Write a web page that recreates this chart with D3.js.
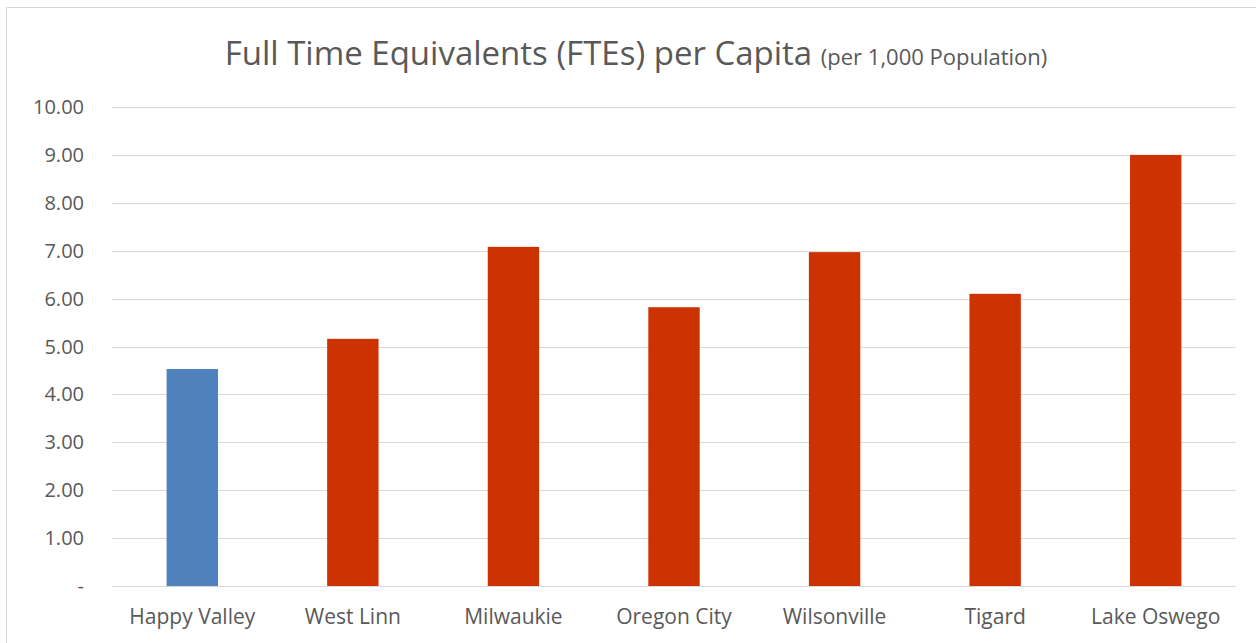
<!DOCTYPE html>
<html>
<head>
<meta charset="utf-8">
<script src="https://cdn.jsdelivr.net/npm/d3@7"></script>
<style>
  body { margin: 0; background: #fff; }
  svg { display: block; font-family: "Open Sans", Lato, sans-serif; }
</style>
</head>
<body>
<script>
// data
const cities = ["Happy Valley", "West Linn", "Milwaukie", "Oregon City", "Wilsonville", "Tigard", "Lake Oswego"]
const ftePerCapita = [4.53, 5.16, 7.08, 5.82, 6.97, 6.10, 9.00]
const barColors = ["#4F81BD", "#CC3300", "#CC3300", "#CC3300", "#CC3300", "#CC3300", "#CC3300"]
const yTicks = [0, 1, 2, 3, 4, 5, 6, 7, 8, 9, 10]

const W = 1256, H = 643
const margin = {top: 107, right: 20, bottom: 57, left: 112}

const svg = d3.select("body").append("svg")
    .attr("width", W)
    .attr("height", H)

// chart frame (only top and left edges are inside the crop)
svg.append("path")
    .attr("d", `M6.5,${H}V7.5H${W}`)
    .attr("fill", "none")
    .attr("stroke", "#d9d9d9")

const x = d3.scaleBand()
    .domain(cities)
    .range([margin.left, W - margin.right])
    .paddingInner(0.68)
    .paddingOuter(0.34)

const y = d3.scaleLinear()
    .domain([0, 10])
    .range([H - margin.bottom, margin.top])

// gridlines
svg.append("g")
    .selectAll("line")
    .data(yTicks)
    .enter()
    .append("line")
    .attr("x1", margin.left)
    .attr("x2", W - margin.right)
    .attr("y1", d => Math.round(y(d)) + 0.5)
    .attr("y2", d => Math.round(y(d)) + 0.5)
    .style("stroke", "#d9d9d9")
    .style("stroke-width", 1)

// y tick labels
svg.append("g")
    .selectAll("text")
    .data(yTicks)
    .enter()
    .append("text")
    .attr("x", 84)
    .attr("y", d => y(d))
    .attr("dy", "0.35em")
    .attr("text-anchor", "end")
    .attr("fill", "#595959")
    .attr("font-size", "20px")
    .text(d => d == 0 ? "-" : d3.format(".2f")(d))

// bars
svg.append("g")
    .selectAll("rect")
    .data(cities)
    .enter()
    .append("rect")
    .attr("x", d => x(d))
    .attr("width", x.bandwidth())
    .attr("y", (d, i) => y(ftePerCapita[i]))
    .attr("height", (d, i) => y(0) - y(ftePerCapita[i]))
    .attr("fill", (d, i) => barColors[i])

// x labels
svg.append("g")
    .selectAll("text")
    .data(cities)
    .enter()
    .append("text")
    .attr("x", d => x(d) + x.bandwidth() / 2)
    .attr("y", 624)
    .attr("text-anchor", "middle")
    .attr("fill", "#595959")
    .attr("font-size", "21px")
    .text(d => d)

// title
const title = svg.append("text")
    .attr("x", 636)
    .attr("y", 65)
    .attr("text-anchor", "middle")
    .attr("fill", "#595959")
title.append("tspan")
    .attr("font-size", "33px")
    .text("Full Time Equivalents (FTEs) per Capita ")
title.append("tspan")
    .attr("font-size", "22px")
    .text("(per 1,000 Population)")
</script>
</body>
</html>
